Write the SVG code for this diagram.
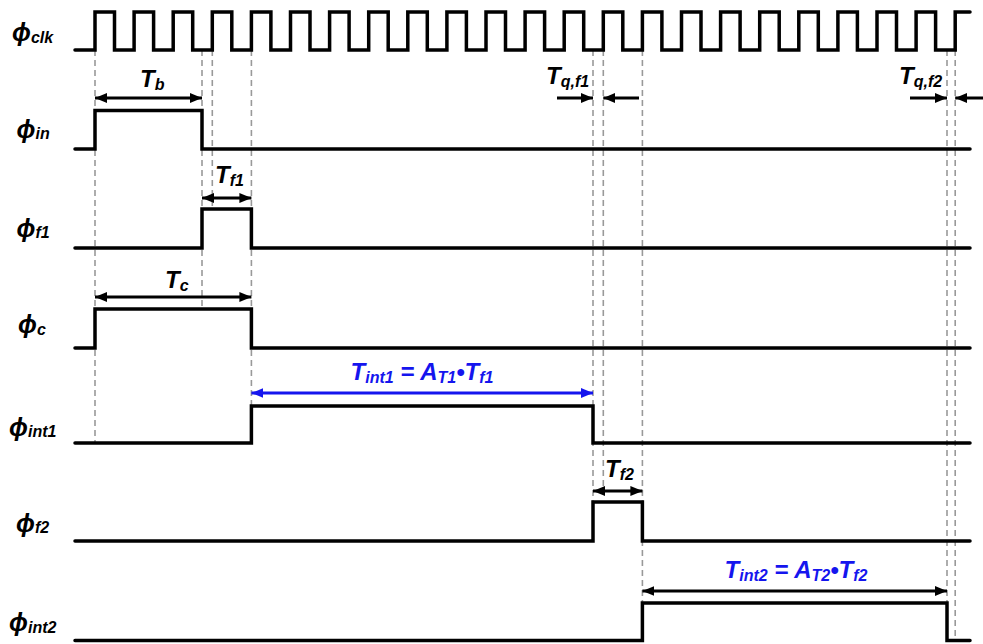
<svg xmlns="http://www.w3.org/2000/svg" width="983" height="644" viewBox="0 0 983 644">
<style>
.sig{fill:none;stroke:#000;stroke-width:3.5;stroke-linejoin:miter;stroke-linecap:round}
.dash{stroke:#999;stroke-width:1.6;stroke-dasharray:6 4;fill:none}
.lbl{font-family:"Liberation Sans",Arial,sans-serif;font-weight:bold;font-style:italic;font-size:24px;fill:#000}
.phi{font-size:25px}
.sub{font-size:16px}
.arr{stroke:#000;stroke-width:3;fill:none}
.barr{stroke:#1515ee;stroke-width:3;fill:none}
.blue{fill:#1515ee}
</style>
<defs>
<marker id="ah" markerUnits="userSpaceOnUse" markerWidth="12" markerHeight="12" viewBox="0 0 12 12" refX="12" refY="6" orient="auto-start-reverse">
<path d="M0,1 L12,6 L0,11 Z" fill="#000"/>
</marker>
<marker id="ahb" markerUnits="userSpaceOnUse" markerWidth="12" markerHeight="12" viewBox="0 0 12 12" refX="12" refY="6" orient="auto-start-reverse">
<path d="M0,1 L12,6 L0,11 Z" fill="#1515ee"/>
</marker>
</defs>
<rect width="983" height="644" fill="#fff"/>
<g id="guides">
<line class="dash" x1="95" y1="50" x2="95" y2="443"/>
<line class="dash" x1="202" y1="50" x2="202" y2="309"/>
<line class="dash" x1="212.3" y1="50" x2="212.3" y2="209"/>
<line class="dash" x1="251.4" y1="50" x2="251.4" y2="443"/>
<line class="dash" x1="593" y1="50" x2="593" y2="541"/>
<line class="dash" x1="603.3" y1="50" x2="603.3" y2="492"/>
<line class="dash" x1="642.4" y1="50" x2="642.4" y2="641"/>
<line class="dash" x1="947" y1="50" x2="947" y2="641"/>
<line class="dash" x1="955.2" y1="50" x2="955.2" y2="641"/>
</g>
<g id="clk">
<text class="lbl" x="12" y="40.5"><tspan class="phi">ϕ</tspan><tspan class="sub" dy="2.5">clk</tspan></text>
<path class="sig" d="M75 50 H95 V12 H114.5 V50 H134.1 V12 H153.6 V50 H173.2 V12 H192.7 V50 H212.3 V12 H231.8 V50 H251.4 V12 H270.9 V50 H290.5 V12 H310 V50 H329.6 V12 H349.1 V50 H368.7 V12 H388.2 V50 H407.8 V12 H427.3 V50 H446.9 V12 H466.4 V50 H486 V12 H505.5 V50 H525.1 V12 H544.6 V50 H564.2 V12 H583.7 V50 H603.3 V12 H622.8 V50 H642.4 V12 H661.9 V50 H681.5 V12 H701 V50 H720.6 V12 H740.1 V50 H759.7 V12 H779.2 V50 H798.8 V12 H818.3 V50 H837.9 V12 H857.4 V50 H877 V12 H896.5 V50 H916.1 V12 H935.6 V50 H955.2 V12 H970"/>
</g>
<g id="in">
<text class="lbl" x="16.5" y="137.5"><tspan class="phi">ϕ</tspan><tspan class="sub" dy="1.5">in</tspan></text>
<path class="sig" d="M75 149 H95 V110.5 H202 V149 H970"/>
</g>
<g id="f1">
<text class="lbl" x="16.5" y="237"><tspan class="phi">ϕ</tspan><tspan class="sub" dy="1">f1</tspan></text>
<path class="sig" d="M75 248 H202 V209 H251.4 V248 H970"/>
</g>
<g id="c">
<text class="lbl" x="18" y="332.5"><tspan class="phi">ϕ</tspan><tspan class="sub" dy="2.5">c</tspan></text>
<path class="sig" d="M75 348 H95 V309 H251.4 V348 H970"/>
</g>
<g id="int1">
<text class="lbl" x="9" y="435.5"><tspan class="phi">ϕ</tspan><tspan class="sub" dy="1">int1</tspan></text>
<path class="sig" d="M75 443 H251.4 V406 H593 V443 H970"/>
</g>
<g id="f2">
<text class="lbl" x="16" y="531.5"><tspan class="phi">ϕ</tspan><tspan class="sub" dy="1.5">f2</tspan></text>
<path class="sig" d="M75 541 H593 V502 H642.4 V541 H970"/>
</g>
<g id="int2">
<text class="lbl" x="9" y="631"><tspan class="phi">ϕ</tspan><tspan class="sub" dy="1.5">int2</tspan></text>
<path class="sig" d="M75 640.5 H642.4 V603 H947 V640.5 H970"/>
</g>
<g id="connectors">
<line class="arr" x1="95" y1="98" x2="202" y2="98" marker-start="url(#ah)" marker-end="url(#ah)"/>
<line class="arr" x1="202" y1="198" x2="251.4" y2="198" marker-start="url(#ah)" marker-end="url(#ah)"/>
<line class="arr" x1="95" y1="297" x2="251.4" y2="297" marker-start="url(#ah)" marker-end="url(#ah)"/>
<line class="barr" x1="251.4" y1="393" x2="593" y2="393" marker-start="url(#ahb)" marker-end="url(#ahb)"/>
<line class="arr" x1="593" y1="491" x2="642.4" y2="491" marker-start="url(#ah)" marker-end="url(#ah)"/>
<line class="arr" x1="642.4" y1="591" x2="947" y2="591" marker-start="url(#ah)" marker-end="url(#ah)"/>
<line class="arr" x1="557" y1="98" x2="593" y2="98" marker-end="url(#ah)"/>
<line class="arr" x1="639" y1="98" x2="603.3" y2="98" marker-end="url(#ah)"/>
<line class="arr" x1="910" y1="98" x2="947" y2="98" marker-end="url(#ah)"/>
<line class="arr" x1="985" y1="98" x2="955.2" y2="98" marker-end="url(#ah)"/>
</g>
<g id="labels">
<text class="lbl" x="140" y="87">T<tspan class="sub" dy="3">b</tspan></text>
<text class="lbl" x="215" y="183">T<tspan class="sub" dy="3">f1</tspan></text>
<text class="lbl" x="165" y="288">T<tspan class="sub" dy="3">c</tspan></text>
<text class="lbl" x="605" y="477">T<tspan class="sub" dy="3">f2</tspan></text>
<text class="lbl" x="546" y="84">T<tspan class="sub" dy="3">q,f1</tspan></text>
<text class="lbl" x="899" y="84">T<tspan class="sub" dy="3">q,f2</tspan></text>
<text class="lbl blue" x="422" y="380" text-anchor="middle">T<tspan class="sub" dy="3">int1</tspan><tspan dy="-3"> = A</tspan><tspan class="sub" dy="3">T1</tspan><tspan dy="-3">•T</tspan><tspan class="sub" dy="3">f1</tspan></text>
<text class="lbl blue" x="796" y="578" text-anchor="middle">T<tspan class="sub" dy="3">int2</tspan><tspan dy="-3"> = A</tspan><tspan class="sub" dy="3">T2</tspan><tspan dy="-3">•T</tspan><tspan class="sub" dy="3">f2</tspan></text>
</g>
</svg>
